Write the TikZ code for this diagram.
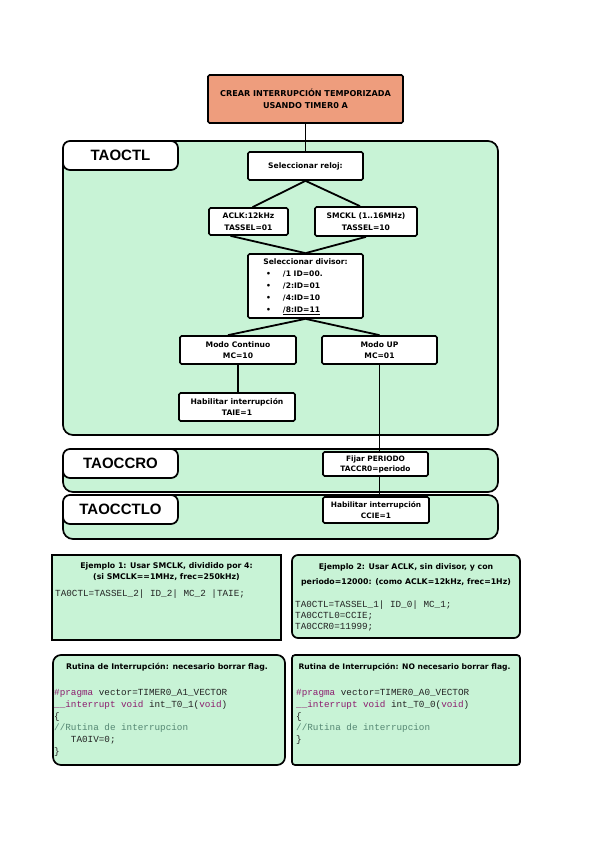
\documentclass[tikz,border=0pt]{standalone}
\usepackage{fontspec}
\setmainfont{DejaVu Sans}
\newfontfamily\tabfont{Liberation Sans}
\setmonofont{Liberation Mono}
\usetikzlibrary{calc}
\definecolor{mint}{RGB}{200,243,214}
\definecolor{salmon}{RGB}{238,157,125}
\definecolor{codepurple}{RGB}{140,28,110}
\definecolor{codegreen}{RGB}{85,135,115}
\definecolor{codeink}{RGB}{35,35,35}
\tikzset{
 ink/.style={line width=1.7pt, draw=black},
 box/.style={ink, fill=white, rounded corners=1.5pt, inner sep=0pt, align=center, font=\bfseries\fontsize{7.6}{11.5}\selectfont},
 frame/.style={ink, fill=mint, rounded corners=10pt, inner sep=0pt},
 tabbox/.style={ink, fill=white, rounded corners=7pt, inner sep=0pt, minimum width=115pt, minimum height=29pt, anchor=north west, font=\tabfont\bfseries\fontsize{15}{18}\selectfont},
 panel/.style={ink, fill=mint, inner sep=0pt},
 link/.style={line width=1.8pt, black},
 heading/.style={inner sep=0pt, align=center, font=\bfseries\fontsize{7.8}{11}\selectfont},
 code/.style={inner sep=0pt, align=left, anchor=north west, text=codeink, font=\ttfamily\fontsize{9.3}{11.8}\selectfont},
}
\begin{document}
\begin{tikzpicture}[x=1pt,y=-1pt]
\useasboundingbox[fill=white] (0,0) rectangle (599,848);

% frames
\node[frame, minimum width=435, minimum height=294] (f1) at (280.5,288) {};
\node[tabbox] (t1) at (f1.north west) {TAOCTL};
\node[frame, minimum width=435, minimum height=43] (f2) at (280.5,470.5) {};
\node[tabbox] (t2) at (f2.north west) {TAOCCRO};
\node[frame, minimum width=435, minimum height=44] (f3) at (280.5,517) {};
\node[tabbox] (t3) at (f3.north west) {TAOCCTLO};

% boxes
\node[box, fill=salmon, minimum width=195, minimum height=48, font=\bfseries\fontsize{8.1}{12}\selectfont] (top) at (305.5,99) {CREAR INTERRUPCIÓN TEMPORIZADA\\USANDO TIMER0 A};
\node[box, minimum width=115, minimum height=28] (reloj) at (305.5,166) {Seleccionar reloj:};
\node[box, minimum width=79, minimum height=27] (aclk) at (248.5,221.5) {ACLK:12kHz\\TASSEL=01};
\node[box, minimum width=102, minimum height=29] (smclk) at (366,221.5) {SMCKL (1..16MHz)\\TASSEL=10};
\node[box, minimum width=115, minimum height=64, font=\bfseries\fontsize{7.6}{12}\selectfont] (div) at (305.5,286) {%
 \begin{tabular}{@{}p{113pt}@{}}\multicolumn{1}{@{}c@{}}{Seleccionar divisor:}\\
 \hspace*{18pt}\makebox[3pt]{\textbullet}\hspace*{13pt}/1 ID=00.\\
 \hspace*{18pt}\makebox[3pt]{\textbullet}\hspace*{13pt}/2:ID=01\\
 \hspace*{18pt}\makebox[3pt]{\textbullet}\hspace*{13pt}/4:ID=10\\
 \hspace*{18pt}\makebox[3pt]{\textbullet}\hspace*{13pt}\underline{/8:ID=11}\end{tabular}};
\node[box, minimum width=116, minimum height=28] (mcont) at (238,350) {Modo Continuo\\MC=10};
\node[box, minimum width=115, minimum height=28] (mup) at (379.5,350) {Modo UP\\MC=01};
\node[box, minimum width=116, minimum height=28] (taie) at (237,407) {Habilitar interrupción\\TAIE=1};
\node[box, minimum width=105, minimum height=24, font=\bfseries\fontsize{7.4}{10}\selectfont] (fijar) at (375.5,464) {Fijar PERIODO\\TACCR0=periodo};
\node[box, minimum width=106, minimum height=26, font=\bfseries\fontsize{7.4}{10.5}\selectfont] (ccie) at (376,510) {Habilitar interrupción\\CCIE=1};

% connectors
\draw[link] (top.south) -- (reloj.north);
\draw[link] (reloj.south) -- ([xshift=4pt]aclk.north);
\draw[link] (reloj.south) -- ([xshift=-6pt]smclk.north);
\draw[link] ([xshift=-18pt]aclk.south) -- (div.north);
\draw[link] (smclk.south) -- (div.north);
\draw[link] (div.south) -- ([xshift=-10pt]mcont.north);
\draw[link] (div.south) -- (mup.north);
\draw[link] (mcont.south) -- (mcont.south |- taie.north);
\draw[link] (mup.south) -- (mup.south |- fijar.north);
\draw[link] (fijar.south -| mup.south) -- (ccie.north -| mup.south);

% example panels
\node[panel, minimum width=229, minimum height=85] (ex1) at (166.5,597.5) {};
\node[panel, rounded corners=6pt, minimum width=228, minimum height=83] (ex2) at (406,596.5) {};
\node[panel, rounded corners=8pt, minimum width=232, minimum height=110] (rt1) at (169,710) {};
\node[panel, rounded corners=3pt, minimum width=228, minimum height=110] (rt2) at (406,710) {};

\node[heading] (ex1h) at (166.5,571.5) {Ejemplo 1: Usar SMCLK, dividido por 4:\\(si SMCLK==1MHz, frec=250kHz)};
\node[heading, font=\bfseries\fontsize{7.8}{15}\selectfont] (ex2h) at (406,574.5) {Ejemplo 2: Usar ACLK, sin divisor, y con\\periodo=12000: (como ACLK=12kHz, frec=1Hz)};
\node[code, font=\ttfamily\fontsize{9.3}{11}\selectfont] (ex1c) at (55,589.5) {TA0CTL=TASSEL\_2| ID\_2| MC\_2 |TAIE;};
\node[code, font=\ttfamily\fontsize{9.3}{11}\selectfont] (ex2c) at (295,600.5) {TA0CTL=TASSEL\_1| ID\_0| MC\_1;\\TA0CCTL0=CCIE;\\TA0CCR0=11999;};

\node[heading] (rt1h) at (167,667) {Rutina de Interrupción: necesario borrar flag.};
\node[heading, font=\bfseries\fontsize{7.6}{11}\selectfont] (rt2h) at (404.5,667) {Rutina de Interrupción: NO necesario borrar flag.};
\node[code] (rt1c) at (54,689) {\textcolor{codepurple}{\#pragma} vector=TIMER0\_A1\_VECTOR\\
\textcolor{codepurple}{\_\_interrupt void} int\_T0\_1(\textcolor{codepurple}{void})\\
\{\\
\textcolor{codegreen}{//Rutina de interrupcion}\\
\phantom{xxx}TA0IV=0;\\
\}};
\node[code] (rt2c) at (296,689) {\textcolor{codepurple}{\#pragma} vector=TIMER0\_A0\_VECTOR\\
\textcolor{codepurple}{\_\_interrupt void} int\_T0\_0(\textcolor{codepurple}{void})\\
\{\\
\textcolor{codegreen}{//Rutina de interrupcion}\\
\}};
\end{tikzpicture}
\end{document}
